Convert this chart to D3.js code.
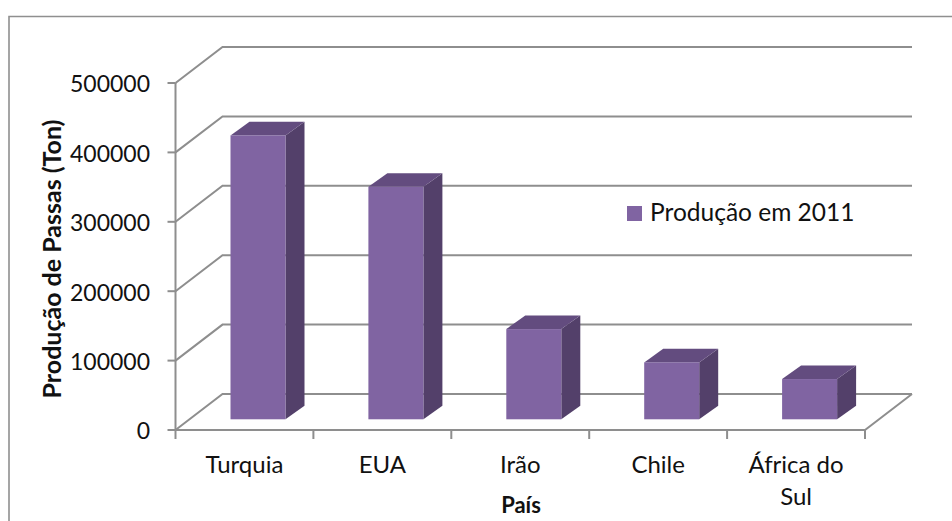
<!DOCTYPE html>
<html><head><meta charset="utf-8">
<script src="https://cdn.jsdelivr.net/npm/d3@7/dist/d3.min.js"></script>
<style>html,body{margin:0;background:#fff}svg{display:block}text{font-family:Lato,"Open Sans",sans-serif;fill:#111}</style>
</head><body><svg id="c" width="952" height="521"></svg>
<script>
const categories=["Turquia","EUA","Irão","Chile","África do Sul"];
const values=[409000,335000,130000,82000,58000];
const yTicks=[0,100000,200000,300000,400000,500000];
const seriesName="Produção em 2011";
const yTitle="Produção de Passas (Ton)";
const xTitle="País";

const svg=d3.select("#c");
const W=952,H=521;
const y=d3.scaleLinear().domain([0,500000]).range([430,83]);
const x=d3.scaleBand().domain(categories).range([175.5,865]);
const depth={dx:47,dy:-36};
const bar={inset:55,width:55,off:{dx:0,dy:-10.7},d:{dx:19,dy:-13.6}};
const grid="#8e8e8e";

svg.append("path").attr("d",`M9,${H} V16.5 H${W}`).attr("fill","none").attr("stroke","#8f8f8f").attr("stroke-width",1.6);

const g=svg.append("g").attr("fill","none").attr("stroke",grid).attr("stroke-width",2);
yTicks.forEach(t=>{
  g.append("path").attr("d",`M${x.range()[0]},${y(t)} l${depth.dx},${depth.dy} H${x.range()[1]+depth.dx}`);
});
g.append("path").attr("d",`M${x.range()[0]},${y(0)} H${x.range()[1]} l${depth.dx},${depth.dy}`);
g.append("path").attr("d",`M${x.range()[0]},${y(500000)} V${y(0)}`);
yTicks.forEach(t=>g.append("path").attr("d",`M${x.range()[0]-8},${y(t)} H${x.range()[0]}`));
const xTickPos=categories.map(c=>x(c)).concat(x.range()[1]);
xTickPos.forEach(p=>g.append("path").attr("d",`M${p},${y(0)} v9`));

const bars=svg.append("g").selectAll("g").data(categories.map((c,i)=>({c,v:values[i]}))).join("g");
bars.each(function(d){
  const s=d3.select(this);
  const x0=x(d.c)+bar.inset, x1=x0+bar.width;
  const yb=y(0)+bar.off.dy, yt=yb-(y(0)-y(d.v));
  const D=bar.d;
  s.append("path").attr("fill","#53406a").attr("d",`M${x1},${yb} L${x1+D.dx},${yb+D.dy} V${yt+D.dy} L${x1},${yt} Z`);
  s.append("path").attr("fill","#634c7f").attr("d",`M${x0},${yt} L${x0+D.dx},${yt+D.dy} H${x1+D.dx} L${x1},${yt} Z`);
  s.append("rect").attr("x",x0).attr("y",yt).attr("width",bar.width).attr("height",yb-yt).attr("fill","#8064a2");
});

svg.append("g").selectAll("text").data(yTicks).join("text")
  .attr("x",150).attr("y",d=>y(d)+9.4).attr("text-anchor","end").attr("font-size",23).text(d=>d);
const lines=c=>c==="África do Sul"?["África do","Sul"]:[c];
categories.forEach(c=>{
  const t=svg.append("text").attr("text-anchor","middle").attr("font-size",24);
  lines(c).forEach((l,i)=>t.append("tspan").attr("x",x(c)+x.bandwidth()/2).attr("y",473+i*32).text(l));
});
svg.append("text").attr("x",521).attr("y",512.5).attr("text-anchor","middle").attr("font-size",22).attr("font-weight",700).text(xTitle);
svg.append("text").attr("transform","translate(61,259) rotate(-90)").attr("text-anchor","middle").attr("font-size",25).attr("font-weight",700).text(yTitle);
svg.append("rect").attr("x",627).attr("y",206).attr("width",15).attr("height",15).attr("fill","#8064a2");
svg.append("text").attr("x",650).attr("y",221).attr("font-size",24.5).text(seriesName);
</script></body></html>
